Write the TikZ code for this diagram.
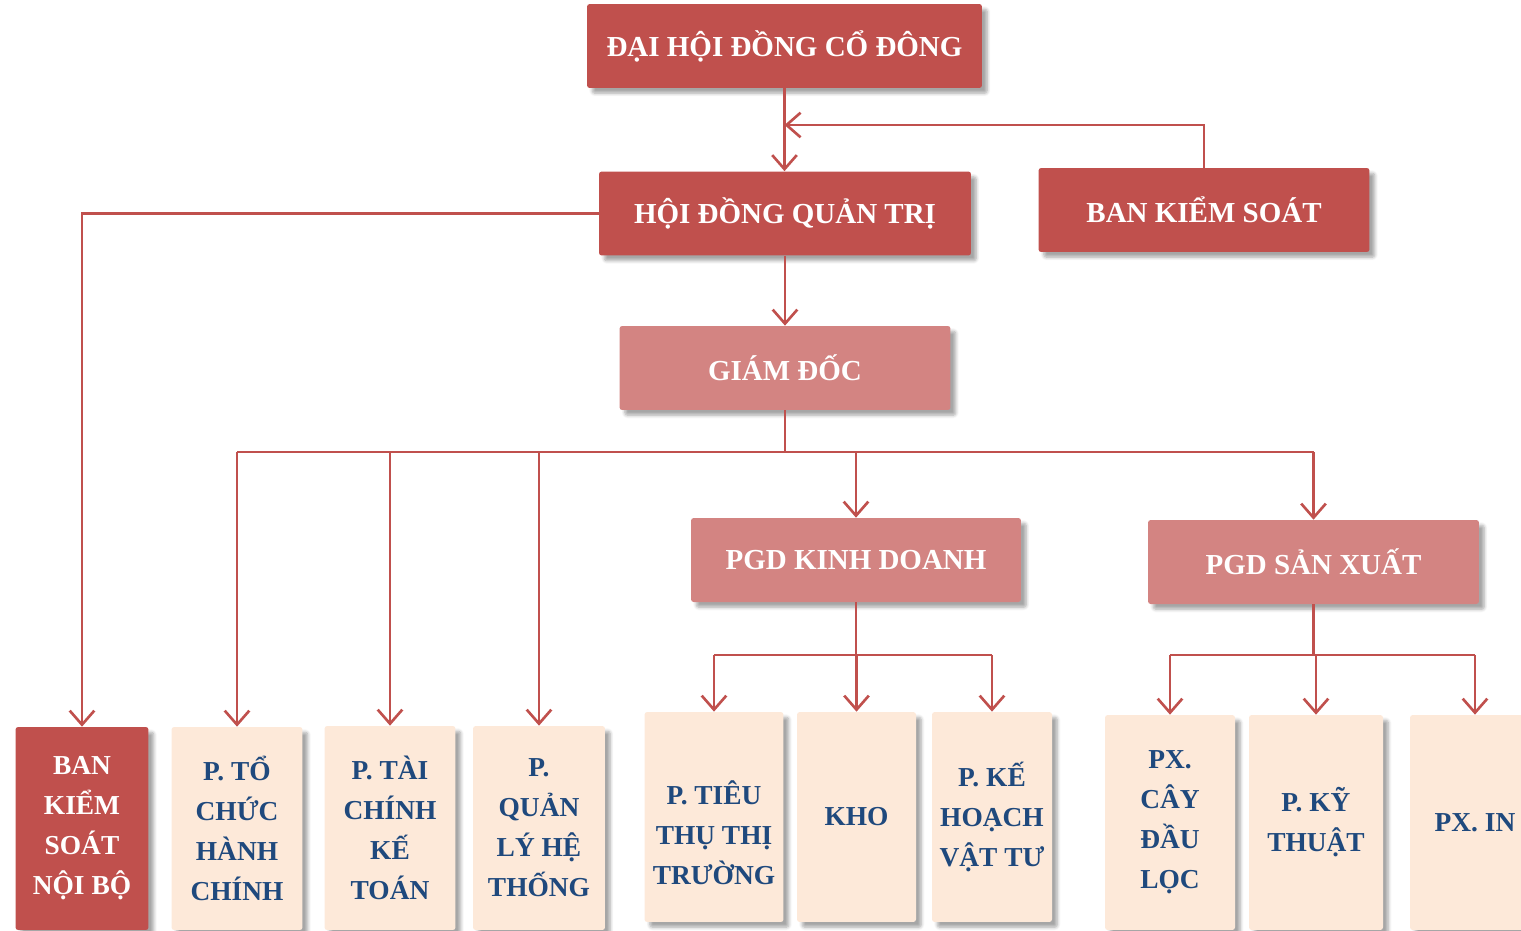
\documentclass[tikz,border=0pt]{standalone}
\usepackage{fontspec}
\setmainfont{Liberation Serif}
\usetikzlibrary{arrows.meta,shadows.blur}
\definecolor{boardred}{HTML}{C0504D}
\definecolor{deputyred}{HTML}{D38482}
\definecolor{deptpeach}{HTML}{FDE9D9}
\definecolor{deptblue}{HTML}{1F497D}
\tikzset{
    base-box/.style = {rectangle, rounded corners=1.5pt, inner sep=0pt, align=center, font=\bfseries\fontsize{16.5}{20}\selectfont, blur shadow={shadow xshift=3pt, shadow yshift=-3pt, shadow opacity=35, shadow blur steps=6}},
    top-box/.style = {base-box, fill=boardred, text=white, minimum height=1.68cm},
    deputy-box/.style = {base-box, fill=deputyred, text=white, minimum height=1.68cm},
    dept-box/.style = {base-box, fill=deptpeach, text=deptblue, font=\bfseries\fontsize{15.6}{22.8}\selectfont},
    link-line/.style = {draw=boardred, line width=1.5pt},
    link/.style = {link-line, -{Straight Barb[length=8pt,width=14pt,line width=1.5pt]}},
}

\begin{document}
\begin{tikzpicture}[x=0.02cm, y=-0.02cm]
\useasboundingbox (0,0) rectangle (1521,930);

% top of the chart
\node [top-box, minimum width=7.9cm] (dhdcd) at (784.5,46) {ĐẠI HỘI ĐỒNG CỔ ĐÔNG};
\node [top-box, minimum width=7.44cm] (hdqt) at (785,213.5) {HỘI ĐỒNG QUẢN TRỊ};
\node [top-box, minimum width=6.62cm] (bks) at (1204,210) {BAN KIỂM SOÁT};
\node [deputy-box, minimum width=6.62cm] (gd) at (785,368) {GIÁM ĐỐC};
\node [deputy-box, minimum width=6.6cm] (pgdkd) at (856,560) {PGD KINH DOANH};
\node [deputy-box, minimum width=6.62cm] (pgdsx) at (1313.5,562) {PGD SẢN XUẤT};

% departments
\node [dept-box, fill=boardred, text=white, minimum width=2.66cm, minimum height=4.06cm] (bksnb) at (82,828.5) {BAN\\KIỂM\\SOÁT\\NỘI BỘ};
\node [dept-box, minimum width=2.62cm, minimum height=4.06cm] (ptc) at (237,828.5) {P. TỔ\\CHỨC\\HÀNH\\CHÍNH};
\node [dept-box, minimum width=2.62cm, minimum height=4.08cm] (ptckt) at (390,828) {P. TÀI\\CHÍNH\\KẾ\\TOÁN};
\node [dept-box, minimum width=2.64cm, minimum height=4.08cm] (pql) at (539,828) {P.\\QUẢN\\LÝ HỆ\\THỐNG};
\node [dept-box, minimum width=2.78cm, minimum height=4.2cm] (pttt) at (714,817) {\rule{0pt}{1.12cm}P. TIÊU\\THỤ THỊ\\TRƯỜNG};
\node [dept-box, minimum width=2.38cm, minimum height=4.2cm] (kho) at (856.5,817) {KHO};
\node [dept-box, minimum width=2.4cm, minimum height=4.2cm] (pkh) at (992,817) {P. KẾ\\HOẠCH\\VẬT TƯ};
\node [dept-box, minimum width=2.6cm, minimum height=4.3cm] (pxcay) at (1170,822.5) {PX.\\CÂY\\ĐẦU\\LỌC};
\node [dept-box, minimum width=2.68cm, minimum height=4.3cm] (pkt) at (1316,822.5) {P. KỸ\\THUẬT};
\node [dept-box, minimum width=2.6cm, minimum height=4.3cm] (pxin) at (1475,822.5) {PX. IN};

\coordinate (bks-join) at (784.5,125);
\coordinate (gd-bus) at (785,452);
\coordinate (kd-bus) at (856,655);
\coordinate (sx-bus) at (1313.5,655);

% connectors
\draw [link] (dhdcd.south) -- (dhdcd.south |- hdqt.north);
\draw [link] (bks.north) |- (bks-join);
\draw [link] (hdqt.west) -| (bksnb.north);
\draw [link] (hdqt.south) -- (hdqt.south |- gd.north);

\draw [link-line] (gd.south) -- (gd-bus);
\draw [link-line] (gd-bus -| ptc.north) -- (gd-bus -| pgdsx.north);
\foreach \dept in {ptc, ptckt, pql, pgdkd, pgdsx}
    \draw [link] (gd-bus -| \dept.north) -- (\dept.north);

\draw [link-line] (pgdkd.south) -- (kd-bus);
\draw [link-line] (kd-bus -| pttt.north) -- (kd-bus -| pkh.north);
\foreach \dept in {pttt, kho, pkh}
    \draw [link] (kd-bus -| \dept.north) -- (\dept.north);

\draw [link-line] (pgdsx.south) -- (sx-bus);
\draw [link-line] (sx-bus -| pxcay.north) -- (sx-bus -| pxin.north);
\foreach \dept in {pxcay, pkt, pxin}
    \draw [link] (sx-bus -| \dept.north) -- (\dept.north);
\end{tikzpicture}
\end{document}
